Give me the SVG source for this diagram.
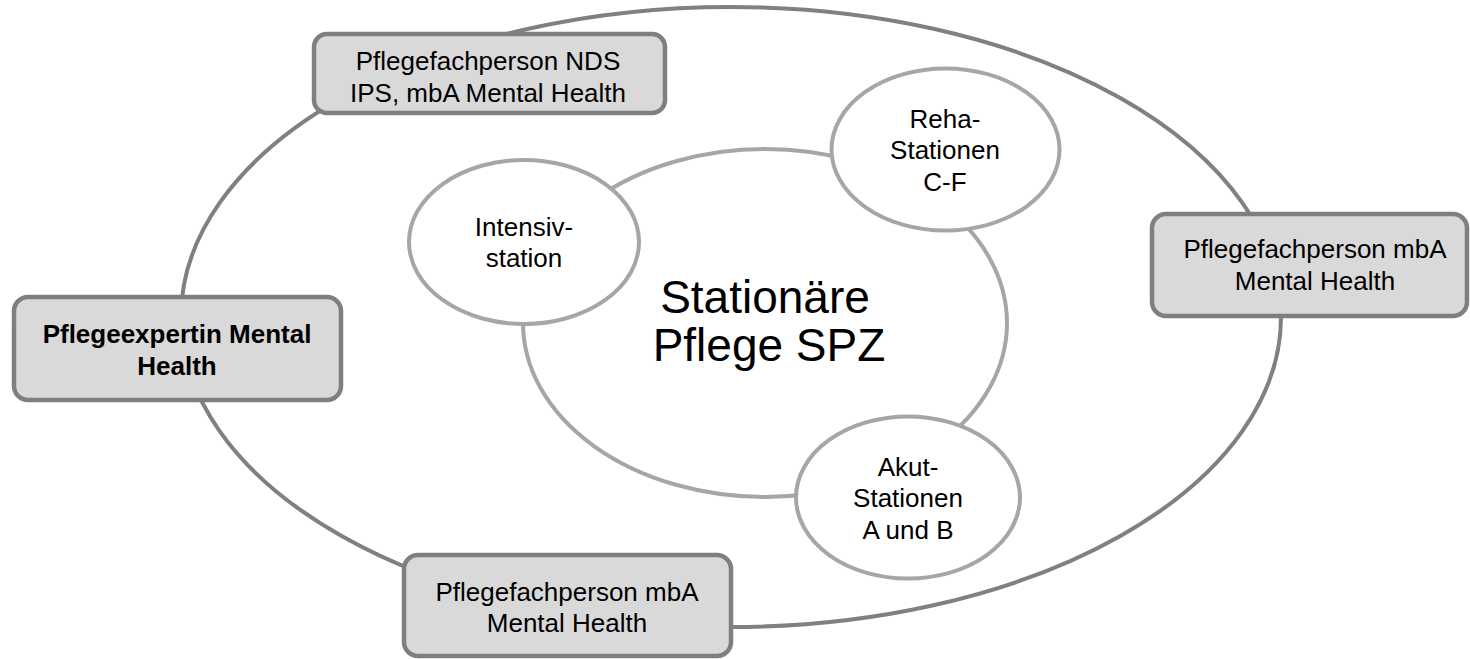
<svg xmlns="http://www.w3.org/2000/svg" width="1470" height="659" viewBox="0 0 1470 659">
<style>
.outer{fill:none;stroke:#808080;stroke-width:4}
.inner{fill:none;stroke:#a6a6a6;stroke-width:4}
.sat{fill:#ffffff;stroke:#a6a6a6;stroke-width:4}
.box{fill:#d9d9d9;stroke:#7f7f7f;stroke-width:4.5}
text{font-family:"Liberation Sans",Arial,sans-serif;font-size:26px;fill:#000;text-anchor:middle}
.b{font-weight:bold}
.big{font-size:46px}
</style>
<rect x="0" y="0" width="1470" height="659" fill="#ffffff"/>
<g id="connectors">
<ellipse class="outer" cx="731" cy="317" rx="550" ry="310"/>
<ellipse class="inner" cx="765" cy="323" rx="242" ry="174"/>
</g>
<g id="center">
<text class="big" x="765" y="313">Stationäre</text>
<text class="big" x="769" y="361">Pflege SPZ</text>
</g>
<g id="intensiv">
<ellipse class="sat" cx="524" cy="242" rx="115" ry="82"/>
<text x="524" y="236">Intensiv-</text>
<text x="524" y="267">station</text>
</g>
<g id="reha">
<ellipse class="sat" cx="945.5" cy="149.5" rx="114" ry="81"/>
<text x="945" y="128">Reha-</text>
<text x="945" y="159">Stationen</text>
<text x="945" y="191">C-F</text>
</g>
<g id="akut">
<ellipse class="sat" cx="908" cy="497.5" rx="112" ry="81"/>
<text x="908" y="476">Akut-</text>
<text x="908" y="507">Stationen</text>
<text x="908" y="539">A und B</text>
</g>
<g id="box-top">
<rect class="box" x="314" y="34" width="351" height="79" rx="13"/>
<text x="488" y="70">Pflegefachperson NDS</text>
<text x="488" y="102">IPS, mbA Mental Health</text>
</g>
<g id="box-left">
<rect class="box" x="14" y="297" width="327" height="103" rx="14"/>
<text class="b" x="177" y="343">Pflegeexpertin Mental</text>
<text class="b" x="177" y="375">Health</text>
</g>
<g id="box-right">
<rect class="box" x="1152" y="214" width="315" height="102" rx="14"/>
<text x="1315" y="258">Pflegefachperson mbA</text>
<text x="1315" y="290">Mental Health</text>
</g>
<g id="box-bottom">
<rect class="box" x="404" y="555" width="327" height="101" rx="14"/>
<text x="567" y="601">Pflegefachperson mbA</text>
<text x="567" y="632">Mental Health</text>
</g>
</svg>
